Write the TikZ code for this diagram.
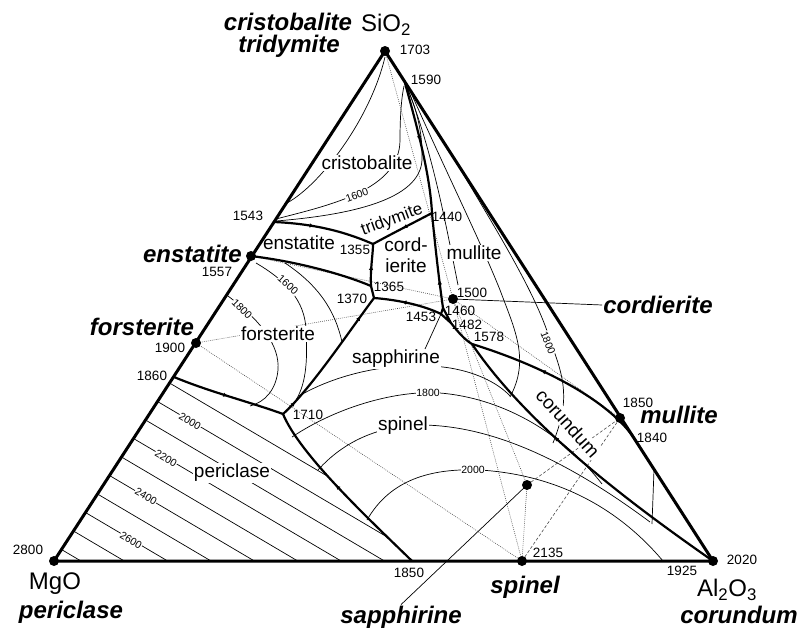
\documentclass[tikz,border=0pt]{standalone}
\usepackage{fontspec}
\setmainfont{Liberation Sans}
\usetikzlibrary{arrows.meta,decorations.markings}

\tikzset{
  mineral/.style={font=\fontsize{24}{26}\selectfont\bfseries\itshape, inner sep=1pt},
  oxide/.style={font=\fontsize{24}{26}\selectfont, inner sep=1pt},
  fieldlabel/.style={font=\fontsize{19}{21}\selectfont, fill=white, inner sep=1pt},
  templabel/.style={font=\fontsize{13.5}{15}\selectfont, inner sep=1pt},
  isotext/.style={font=\fontsize{10.5}{12}\selectfont, fill=white, inner sep=0.5pt},
  boundary/.style={line width=2.2pt, line join=round},
  isotherm/.style={line width=0.7pt},
  tieline/.style={line width=0.6pt, gray!60!black, dash pattern=on 0.8pt off 1.2pt},
  tiedash/.style={line width=0.6pt, gray!60!black, dash pattern=on 3pt off 2pt},
  downhill/.style={postaction={decorate, decoration={markings,
      mark=at position #1 with {\arrow{Latex[length=5pt,width=4.5pt]}}}}}
}

\begin{document}
\begin{tikzpicture}[x=1pt,y=-1pt]
  \useasboundingbox (0,0) rectangle (801,632);

  % Oxide corners
  \coordinate (S) at (385,51);
  \coordinate (M) at (54,561);
  \coordinate (A) at (713,561);
  % Compounds
  \coordinate (En) at (251,256);
  \coordinate (Fo) at (196,343);
  \coordinate (Co) at (453,299);
  \coordinate (Mu) at (620,418);
  \coordinate (Sp) at (522,561);
  \coordinate (Sa) at (527,485);
  % Invariant points
  \coordinate (p1543) at (274,222);
  \coordinate (p1355) at (373,244);
  \coordinate (p1440) at (432,213);
  \coordinate (p1590) at (405,83);
  \coordinate (p1365) at (371,286);
  \coordinate (p1370) at (374,298);
  \coordinate (p1460) at (443,308);
  \coordinate (p1453) at (441,314);
  \coordinate (p1482) at (451,323);
  \coordinate (p1578) at (472,344);
  \coordinate (p1840) at (636,441);
  \coordinate (p1860) at (174,377);
  \coordinate (p1710) at (283,414);
  \coordinate (p1850) at (412,561);
  \coordinate (p1925) at (663,561);

  % Alkemade lines
  \draw[tieline] (S) -- (Co);
  \draw[tieline] (En) -- (Co);
  \draw[tieline] (Fo) -- (Co);
  \draw[tieline] (Fo) -- (Sp);
  \draw[tieline] (Co) -- (Mu);
  \draw[tieline] (Co) -- (Sp);
  \draw[tieline] (Co) -- (Sa);
  \draw[tieline] (Sa) -- (Sp);
  \draw[tiedash] (Sa) -- (Mu);
  \draw[tiedash] (Sp) -- (Mu);

  % Isotherms: cristobalite field
  \draw[isotherm] (287,203) .. controls (320,185) and (370,120) .. (385,57);
  \draw[isotherm] (276,219) .. controls (330,205) and (400,190) .. (400,140) .. controls (400,112) and (402,95) .. (404,86);
  \draw[isotherm] (276,221) .. controls (350,215) and (420,200) .. (422,160) .. controls (423,130) and (415,105) .. (407,88);
  % Isotherms: forsterite field
  \draw[isotherm] (256,263) .. controls (285,280) and (305,300) .. (306,330) .. controls (308,365) and (305,385) .. (296,400);
  \draw[isotherm] (228,296) .. controls (260,320) and (280,345) .. (278,370) .. controls (276,390) and (265,402) .. (250,406);
  \draw[isotherm] (285,263) .. controls (318,285) and (335,310) .. (342,342);
  % Isotherms: periclase field
  \begin{scope}
    \clip (p1860) -- (M) -- (p1850) .. controls (370,520) and (300,455) .. (p1710)
      .. controls (250,402) and (210,392) .. (p1860) -- cycle;
    \foreach \k in {0,...,9} {
      \pgfmathsetmacro\yo{383+18.5*\k}
      \pgfmathsetmacro\xo{54+0.649*(561-\yo)}
      \draw[isotherm] (\xo,\yo) -- ++(400,236);
    }
  \end{scope}
  % Isotherms: spinel field
  \draw[isotherm] (299,396) .. controls (340,372) and (400,360) .. (450,368) .. controls (480,373) and (500,385) .. (510,396);
  \draw[isotherm] (292,437) .. controls (340,405) and (400,390) .. (440,393) .. controls (500,398) and (560,430) .. (602,484);
  \draw[isotherm] (318,470) .. controls (345,440) and (380,426) .. (420,425) .. controls (500,425) and (580,470) .. (650,522);
  \draw[isotherm] (367,520) .. controls (390,480) and (430,468) .. (480,470) .. controls (560,475) and (620,510) .. (p1925);
  % Isotherms: mullite and corundum fields
  \draw[isotherm] (407,87) .. controls (432,150) and (445,220) .. (458,285);
  \draw[isotherm] (408,86) .. controls (445,170) and (480,240) .. (500,290) .. controls (515,330) and (530,360) .. (510,397);
  \draw[isotherm] (449,150) .. controls (490,220) and (535,290) .. (550,340) .. controls (565,380) and (570,400) .. (553,443);
  \draw[isotherm] (654,470) -- (652,524);

  % Isotherm values
  \node[isotext, rotate=20] (i1600a) at (357,195) {1600};
  \node[isotext, rotate=-42] (i1600b) at (288,285) {1600};
  \node[isotext, rotate=-45] (i1800a) at (242,309) {1800};
  \node[isotext, rotate=-30.5] (i2000a) at (190,421) {2000};
  \node[isotext, rotate=-30.5] (i2200) at (166,458) {2200};
  \node[isotext, rotate=-30.5] (i2400) at (146,496) {2400};
  \node[isotext, rotate=-30.5] (i2600) at (131,540) {2600};
  \node[isotext] (i1800b) at (428,393) {1800};
  \node[isotext] (i2000b) at (473,470) {2000};
  \node[isotext, rotate=-68] (i1800c) at (548,343) {1800};

  % Primary phase fields
  \node[fieldlabel] (fcris) at (367,163) {cristobalite};
  \node[fieldlabel, fill=none, font=\fontsize{17}{19}\selectfont, rotate=20] (ftrid) at (392,220) {tridymite};
  \node[fieldlabel] (fen) at (299,243) {enstatite};
  \node[fieldlabel, align=center] (fcord) at (406,255) {cord-\\ierite};
  \node[fieldlabel] (fmul) at (474,253) {mullite};
  \node[fieldlabel] (ffo) at (278,334) {forsterite};
  \node[fieldlabel] (fsap) at (396,359) {sapphirine};
  \node[fieldlabel] (fsp) at (403,426) {spinel};
  \node[fieldlabel] (fper) at (232,473) {periclase};
  \node[fieldlabel, rotate=-48] (fcor) at (568,423) {corundum};
  \draw[isotherm] (fsap.north east) ++(-16,0) -- (p1453);

  % Field boundaries
  \draw[boundary, downhill=0.4] (p1543) .. controls (320,224) and (350,234) .. (p1355);
  \draw[boundary, downhill=0.5] (p1440) .. controls (415,222) and (395,232) .. (p1355);
  \draw[boundary, downhill=0.45] (p1590) .. controls (418,130) and (430,175) .. (p1440);
  \draw[boundary, downhill=0.3] (p1460) .. controls (439,280) and (435,245) .. (p1440);
  \draw[boundary, downhill=0.5] (p1365) .. controls (370,270) and (373,255) .. (p1355);
  \draw[boundary] (En) .. controls (300,262) and (345,275) .. (p1365);
  \draw[boundary] (p1370) -- (p1365);
  \draw[boundary, downhill=0.6] (p1453) .. controls (425,306) and (400,300) .. (p1370);
  \draw[boundary, downhill=0.12, downhill=0.85] (p1710) .. controls (310,390) and (350,330) .. (p1370);
  \draw[boundary, downhill=0.5] (p1860) .. controls (210,392) and (250,402) .. (p1710);
  \draw[boundary, downhill=0.55] (p1850) .. controls (370,520) and (300,455) .. (p1710);
  \draw[boundary] (p1460) -- (p1482) -- (p1453) -- cycle;
  \draw[boundary] (p1482) .. controls (458,332) and (465,340) .. (p1578);
  \draw[boundary, downhill=0.62] (p1840) .. controls (610,400) and (540,365) .. (p1578);
  \draw[boundary, downhill=0.62] (A) .. controls (640,510) and (530,430) .. (p1578);

  % Composition triangle
  \draw[line width=3pt, line join=round] (S) -- (M) -- (A) -- cycle;

  % Compounds
  \foreach \c in {S,M,A,En,Fo,Co,Mu,Sp,Sa}
    \fill (\c) circle (5pt);

  % Compound names
  \node[mineral] (lcris) at (288,22) {cristobalite};
  \node[mineral] (ltrid) at (289,46) {tridymite};
  \node[oxide] (lsio) at (386,25) {SiO\textsubscript{2}};
  \node[mineral, anchor=east] (len) at (243,254) {enstatite};
  \node[mineral] (lfo) at (142,327) {forsterite};
  \node[oxide] (lmgo) at (55,584) {MgO};
  \node[mineral] (lper) at (71,612) {periclase};
  \node[mineral] (lsap) at (401,617) {sapphirine};
  \node[mineral] (lsp) at (525,587) {spinel};
  \node[oxide] (lal) at (727,590) {Al\textsubscript{2}O\textsubscript{3}};
  \node[mineral] (lcor) at (739,615) {corundum};
  \node[mineral] (lmul) at (679,415) {mullite};
  \node[mineral] (lcord) at (658,305) {cordierite};
  \draw[isotherm] (Co) -- (lcord.west);
  \draw[isotherm] (Sa) -- (lsap.north);

  % Temperatures
  \node[templabel] (t1703) at (415,50) {1703};
  \node[templabel] (t1590) at (426,80) {1590};
  \node[templabel] (t1543) at (248,216) {1543};
  \node[templabel] (t1557) at (217,272) {1557};
  \node[templabel] (t1900) at (170,348) {1900};
  \node[templabel] (t1860) at (152,376) {1860};
  \node[templabel] (t2800) at (28,550) {2800};
  \node[templabel] (t1850a) at (409,573) {1850};
  \node[templabel] (t2135) at (548,553) {2135};
  \node[templabel] (t1925) at (682,571) {1925};
  \node[templabel] (t2020) at (742,560) {2020};
  \node[templabel] (t1850b) at (638,403) {1850};
  \node[templabel] (t1840) at (652,438) {1840};
  \node[templabel] (t1440) at (447,217) {1440};
  \node[templabel] (t1355) at (355,250) {1355};
  \node[templabel] (t1365) at (389,287) {1365};
  \node[templabel] (t1370) at (352,299) {1370};
  \node[templabel] (t1500) at (472,293) {1500};
  \node[templabel] (t1460) at (460,311) {1460};
  \node[templabel] (t1453) at (421,317) {1453};
  \node[templabel] (t1482) at (467,325) {1482};
  \node[templabel] (t1578) at (489,337) {1578};
  \node[templabel] (t1710) at (308,415) {1710};
\end{tikzpicture}
\end{document}
